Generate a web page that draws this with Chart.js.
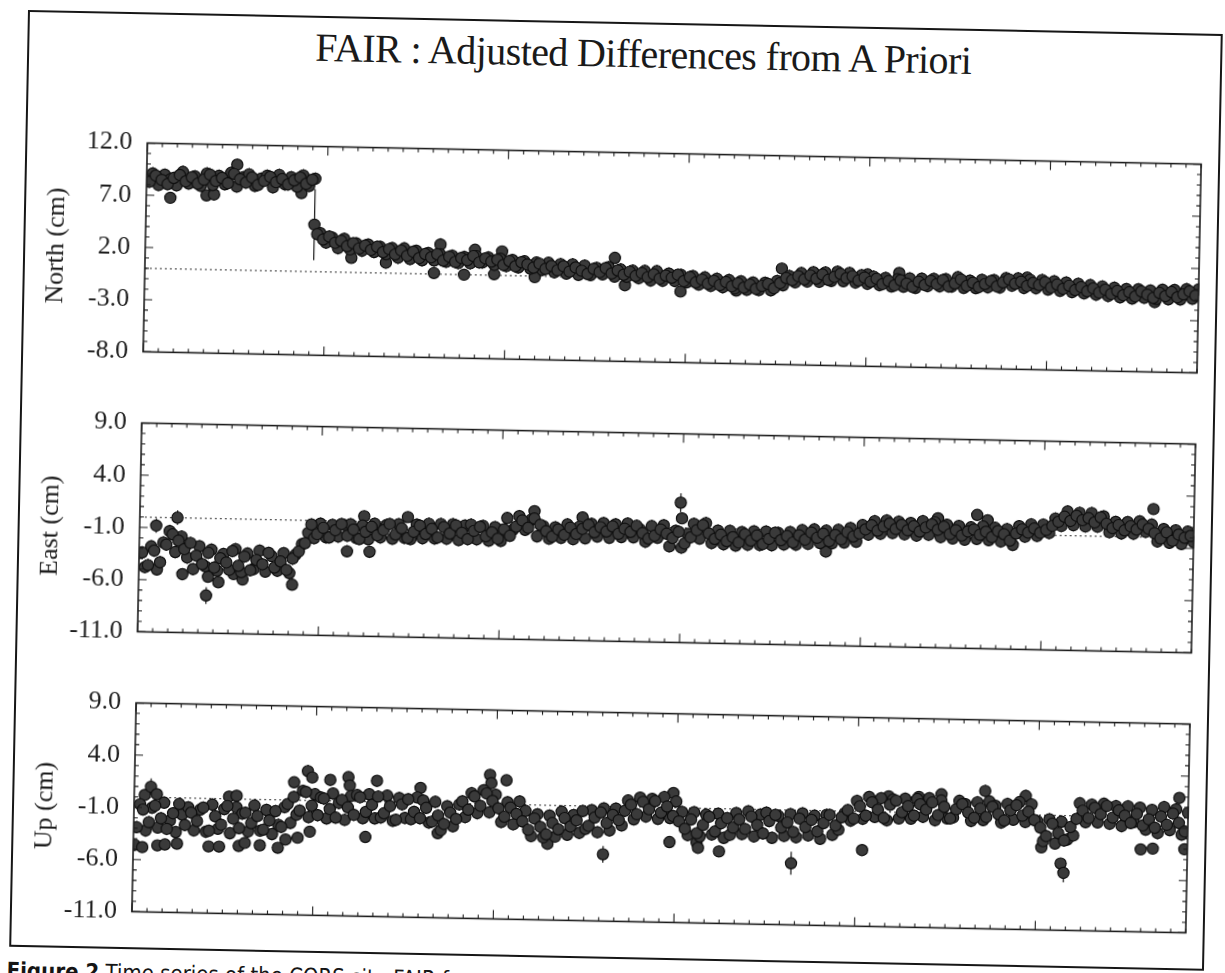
<!DOCTYPE html>
<html>
<head>
<meta charset="utf-8">
<title>FAIR : Adjusted Differences from A Priori</title>
<script src="https://cdn.jsdelivr.net/npm/chart.js@4.4.1/dist/chart.umd.min.js"></script>
<style>
    html, body { margin: 0; padding: 0; background: #fff; width: 1225px; height: 973px; overflow: hidden; }
    /* the scan is tilted a little, so the whole sheet is turned */
    #sheet { position: absolute; left: 28px; top: 10px; width: 1195px; height: 1000px; transform-origin: 0 0; transform: rotate(1.15deg); }
    #frame { position: absolute; left: 0; top: 0; width: 1195px; height: 937px; border: 2px solid #161616; box-sizing: border-box; }
    #title { position: absolute; left: 0; top: 12px; width: 1232px; text-align: center; font: 40px 'Liberation Serif', serif; letter-spacing: -0.6px; line-height: 1; color: #1a1a1a; }
    .panel { position: absolute; left: 0; }
    #caption { position: absolute; left: -2px; top: 950px; white-space: nowrap; font: 22px 'DejaVu Sans Condensed', 'Liberation Sans', sans-serif; line-height: 1; color: #151515; }
    #caption b { font-weight: bold; }
</style>
</head>
<body>
<div id="sheet">
    <div id="frame"></div>
    <div id="title">FAIR : Adjusted Differences from A Priori</div>
    <canvas class="panel" id="north" width="1195" height="270" style="top:100px"></canvas>
    <canvas class="panel" id="east" width="1195" height="270" style="top:380px"></canvas>
    <canvas class="panel" id="up" width="1195" height="270" style="top:660px"></canvas>
    <div id="caption"><b>Figure 2</b> Time series of the CORS site FAIR for</div>
</div>
<script>
// time axis in months from the start of the series.
// two interleaved sample sets: A at 0.2, 0.6, 1.0 ... and B at 0.4, 0.8, 1.2 ...
const firstMonthA = 0.2;
const firstMonthB = 0.4;
const monthStep = 0.4;
const xMin = 0, xMax = 70;
const bandErr = 0.6;   // typical daily sigma, cm

// North (cm)
const northA = [
    8.3, 8.9, 8.5, 8.1, 8.7, 9.0, 8.4, 8.8, 8.2, 8.6,
    9.1, 8.5, 8.8, 8.3, 9.2, 8.7, 8.4, 8.9, 8.2, 8.6,
    9.0, 8.5, 8.8, 8.3, 8.7, 9.0, 8.4, 8.8, 3.6, 3.1,
    3.4, 2.8, 3.0, 2.5, 2.8, 2.3, 2.6, 2.2, 2.5, 2.0,
    2.3, 1.8, 2.2, 1.7, 2.1, 1.5, 1.9, 1.6, 1.9, 1.3,
    1.7, 1.2, 1.6, 1.4, 1.8, 1.2, 1.6, 1.3, 1.5, 1.0,
    1.4, 0.9, 1.3, 1.1, 0.8, 1.2, 0.7, 1.0, 0.6, 1.0,
    0.5, 0.9, 0.6, 0.3, 0.8, 0.5, 0.9, 0.4, 0.7, 0.3,
    0.6, 0.2, 0.5, 0.1, 0.4, 0.0, 0.3, 0.1, 0.4, -0.2,
    0.2, -0.3, 0.0, -0.4, -0.1, -0.5, -0.2, -0.6, -0.3, -0.7,
    -0.4, -0.8, -0.5, -0.3, -0.7, -0.2, 0.3, 0.1, 0.5, 0.2,
    0.6, 0.3, 0.7, 0.2, 0.5, 0.8, 0.4, 0.6, 0.2, 0.5,
    0.1, 0.4, -0.1, 0.2, -0.2, 0.3, 0.0, -0.3, 0.2, -0.1,
    0.3, 0.0, 0.4, -0.2, 0.1, 0.5, -0.1, 0.2, -0.2, 0.1,
    0.4, -0.1, 0.3, 0.6, 0.2, 0.4, 0.0, 0.3, 0.1, 0.4,
    -0.1, 0.2, -0.2, 0.1, -0.3, 0.0, -0.4, -0.1, -0.5, -0.2,
    -0.6, -0.3, -0.7, -0.4, -0.8, -0.3, -0.6, -0.9, -0.4, -0.7,
    -0.3, -0.8, -0.5, -0.2, -0.6
];
const northB = [
    9.1, 8.0, 9.0, 8.6, 8.0, 9.3, 8.2, 8.9, 8.0, 9.2,
    8.1, 9.0, 8.2, 9.3, 8.0, 8.9, 9.2, 8.1, 8.8, 9.1,
    8.0, 9.2, 8.3, 9.0, 8.1, 9.2, 8.2, 8.9, 3.7, 2.8,
    3.3, 2.3, 3.2, 2.2, 2.8, 2.1, 2.7, 2.0, 2.5, 1.8,
    2.4, 1.5, 2.4, 1.4, 2.2, 1.3, 2.0, 1.3, 1.9, 1.2,
    1.8, 1.1, 1.7, 1.1, 1.8, 1.2, 1.7, 1.0, 1.6, 0.9,
    1.5, 0.8, 1.4, 0.7, 1.3, 0.6, 1.3, 0.4, 1.2, 0.3,
    1.2, 0.2, 1.1, 0.2, 0.9, 0.3, 1.0, 0.1, 0.8, 0.1,
    0.7, 0.0, 0.7, -0.2, 0.7, -0.2, 0.5, -0.2, 0.4, -0.3,
    0.3, -0.5, 0.2, -0.6, 0.1, -0.7, 0.0, -0.8, -0.1, -0.9,
    -0.2, -0.9, -0.2, -0.9, 0.0, -0.4, 0.5, -0.1, 0.8, 0.0,
    0.9, 0.0, 0.9, 0.1, 1.0, 0.1, 0.9, 0.0, 0.7, -0.1,
    0.6, -0.2, 0.5, -0.3, 0.4, -0.3, 0.5, -0.4, 0.5, -0.2,
    0.5, -0.2, 0.5, -0.2, 0.7, -0.3, 0.4, -0.3, 0.5, -0.2,
    0.5, -0.2, 0.7, 0.0, 0.7, -0.2, 0.6, -0.2, 0.6, -0.3,
    0.5, -0.4, 0.4, -0.5, 0.3, -0.6, 0.2, -0.7, 0.1, -0.8,
    0.0, -0.9, -0.1, -1.0, -0.1, -0.9, -0.2, -1.0, -0.1, -1.0,
    -0.1, -1.0, 0.0, -0.9, 0.0
];
const northOutX = [1.6, 4.0, 4.5, 6.0, 10.3, 11.2, 13.7, 16.0, 19.2, 19.6, 21.2, 21.9, 23.2, 23.7, 25.9, 31.2, 31.9, 35.6, 39.3, 42.3, 48.0, 50.1, 58.6, 67.1];
const northOutY = [6.8, 7.1, 7.2, 10.1, 7.5, 4.5, 1.4, 1.0, 0.1, 2.85, 0.0, 2.4, 0.1, 2.3, -0.1, 1.9, -0.7, -1.2, -1.0, 1.2, 0.8, 1.0, 0.8, -1.3];
const northOutErr = [0.4, 0.3, 0.3, 0.5, 0.3, 3.4, 0.3, 0.3, 0.5, 0.6, 0.3, 0.5, 0.3, 0.5, 0.3, 0.5, 0.3, 0.4, 0.3, 0.4, 0.3, 0.3, 0.3, 0.3];
const northTicks = [-8, -3, 2, 7, 12];

// East (cm)
const eastA = [
    -3.4, -4.6, -3.2, -4.3, -2.6, -1.6, -2.2, -3.0, -2.4, -3.6,
    -4.4, -3.3, -4.7, -3.8, -4.2, -3.1, -4.5, -3.6, -4.9, -3.9,
    -4.3, -3.2, -4.6, -4.0, -4.8, -3.7, -3.0, -2.2, -0.4, -1.3,
    -0.7, -1.6, -0.9, -0.3, -1.4, -0.8, -1.7, -1.0, -0.5, -1.3,
    -0.8, -0.2, -1.2, -0.6, -1.5, -0.9, -0.3, -1.1, -0.6, -1.4,
    -0.4, -1.0, -0.2, -0.9, -1.5, -0.7, -0.3, -1.2, -0.8, -1.4,
    -0.5, -1.1, -0.2, 0.4, -0.3, 0.6, 0.0, -0.6, -1.1, -0.4,
    -0.9, -0.2, -0.8, -0.3, 0.1, -0.6, -0.1, -0.5, 0.0, -0.7,
    -0.2, -0.5, 0.1, -0.6, -1.1, -0.8, -0.2, -0.6, -1.0, -0.4,
    -1.5, -0.9, -0.2, 0.3, -0.5, -1.0, -0.6, -1.2, -0.8, -1.3,
    -0.5, -1.1, -0.6, -1.4, -0.9, -0.3, -1.0, -0.6, -1.2, -0.5,
    -0.9, -0.2, -0.7, -0.3, -1.0, -0.4, -0.8, -0.1, -0.5, -0.2,
    0.2, 0.6, 0.1, 0.5, 0.8, 0.3, 0.7, 0.2, 0.6, 0.1,
    0.5, 0.8, 0.3, 0.6, -0.1, 0.3, -0.2, 0.2, 0.4, -0.1,
    0.2, -0.3, 0.3, 0.0, -0.6, 0.1, 0.5, 0.2, 0.6, 0.2,
    0.5, 0.9, 1.3, 1.8, 1.4, 1.9, 1.5, 1.7, 1.3, 1.8,
    1.2, 0.8, 1.1, 0.6, 1.0, 0.7, 1.2, 0.8, 0.4, -0.1,
    0.5, -0.3, 0.3, 0.0, 0.2
];
const eastB = [
    -4.8, -2.8, -5.0, -2.4, -1.3, -3.3, -1.8, -3.8, -4.9, -2.7,
    -4.6, -3.0, -5.0, -3.4, -4.9, -2.9, -5.1, -3.3, -4.8, -3.0,
    -5.0, -3.5, -4.9, -3.2, -5.1, -3.3, -2.3, -1.2, -1.7, -0.3,
    -1.6, -0.4, -1.5, -0.4, -0.3, -1.6, -0.4, -1.7, -0.2, -1.5,
    -0.3, -1.6, -0.2, -1.5, -1.6, -0.2, -1.5, -0.1, -1.5, -0.1,
    -1.5, -0.1, -1.6, -0.2, -0.1, -1.5, -0.2, -1.6, -0.3, -1.6,
    0.6, -0.5, 0.8, -0.5, 0.5, -1.1, -0.1, -1.3, -0.2, -1.2,
    0.1, -1.3, -0.1, -1.2, 0.2, -1.0, 0.3, -1.1, 0.2, -1.0,
    0.3, -1.0, -0.2, -1.4, 0.1, -1.0, 0.2, -1.8, -0.3, -1.9,
    -0.6, 0.4, -1.0, 0.5, -1.4, -0.2, -1.5, -0.2, -1.6, -0.3,
    -1.5, -0.2, -1.5, -0.2, -1.5, -0.3, -1.4, -0.2, -1.4, 0.0,
    -1.3, 0.1, -1.2, 0.0, -1.2, 0.1, -1.1, 0.3, -1.0, 0.6,
    -0.3, 1.0, -0.2, 1.1, -0.1, 1.0, -0.2, 0.9, -0.3, 1.1,
    -0.2, 1.0, -0.4, 0.8, -0.5, 0.7, -0.6, 0.6, -0.5, 0.7,
    -0.6, 0.6, -0.7, 0.5, -1.0, 0.8, -0.2, 1.0, -0.1, 1.0,
    0.2, 1.6, 0.9, 2.3, 1.0, 2.2, 0.9, 2.2, 0.9, 1.9,
    0.4, 1.4, 0.3, 1.4, 0.3, 1.5, 0.5, 1.2, -0.4, 0.8,
    -0.5, 0.7, -0.6, 0.6, -0.4
];
const eastOutX = [1.1, 2.5, 2.9, 4.5, 4.6, 5.3, 6.3, 6.9, 10.2, 13.8, 14.9, 15.3, 17.8, 26.2, 29.4, 35.9, 36.0, 45.6, 53.0, 55.6, 56.3, 67.3];
const eastOutY = [-0.8, 0.0, -5.4, -7.4, -5.6, -6.1, -5.3, -5.8, -6.2, -2.9, 0.5, -2.9, 0.5, 1.3, 0.8, 2.4, 0.9, -2.0, 1.4, 1.8, 1.3, 2.7];
const eastOutErr = [0.7, 0.7, 0.4, 0.8, 0.4, 0.4, 0.4, 0.4, 0.4, 0.6, 0.4, 0.6, 0.4, 0.4, 0.3, 0.9, 0.4, 0.4, 0.4, 0.5, 0.4, 0.5];
const eastTicks = [-11, -6, -1, 4, 9];

// Up (cm)
const upA = [
    -2.9, -1.2, -2.4, -0.8, -2.0, -3.0, -1.5, -0.6, -2.6, -1.4,
    -2.2, -0.9, -3.1, -1.7, -2.5, -0.7, -1.9, -2.8, -1.3, -2.3,
    -1.6, -2.9, -2.0, -1.1, -2.6, -0.4, 0.3, -1.0, 0.8, -0.5,
    -1.4, 0.2, -0.8, -1.6, 0.1, -0.6, -1.3, 0.4, -1.0, -0.3,
    0.5, -1.1, -0.4, -1.7, -0.2, 0.3, -0.9, -1.5, -0.5, -1.8,
    -1.2, -2.0, -0.9, -1.5, 0.2, -0.6, 0.7, -0.2, 1.0, 0.3,
    -0.4, -1.2, -0.3, -0.9, -1.6, -2.4, -1.3, -2.1, -2.8, -1.7,
    -2.3, -1.2, -2.0, -1.4, -0.5, -1.9, -1.1, -0.6, -1.6, -0.8,
    -1.3, -0.4, 0.2, -0.7, 0.5, -0.2, 0.6, -0.5, 0.1, -0.8,
    -1.3, -2.0, -1.1, -2.4, -1.6, -0.8, -2.2, -1.4, -0.9, -1.8,
    -1.0, -1.9, -0.7, -1.5, -2.3, -1.1, -0.5, -1.7, -1.2, -2.1,
    -0.8, -1.6, -0.9, -2.0, -1.2, -0.4, -1.4, -0.6, 0.1, -0.7,
    0.5, -0.4, 0.9, 0.2, -0.6, 0.7, 1.1, 0.0, 0.6, -0.3,
    0.8, 0.3, 1.0, -0.2, 0.6, -0.5, 0.4, 0.9, 0.1, -0.4,
    0.5, -0.3, 0.7, 0.0, -0.6, 0.4, 0.9, -0.1, 0.3, -0.5,
    -1.2, -2.0, -0.8, -1.7, -2.4, -1.1, -0.3, 0.5, -0.2, 0.8,
    0.2, 1.0, -0.1, 0.6, 0.1, -0.6, 0.3, -0.8, -0.2, -1.0,
    0.1, -0.7, 0.4, -0.5, -1.3
];
const upB = [
    -0.7, -3.2, -1.0, -2.9, -0.5, -2.2, -3.3, -1.6, -0.9, -3.1,
    -1.1, -3.2, -0.6, -2.9, -1.0, -3.3, -0.8, -1.4, -3.1, -0.6,
    -3.0, -1.0, -3.3, -2.4, -0.7, -2.2, -1.4, 0.9, -1.6, 0.6,
    0.3, -1.7, 0.7, -0.2, -1.8, 0.5, 0.6, -1.6, 0.7, -1.6,
    -1.5, 0.6, -1.8, 0.4, -1.5, -1.6, 0.5, 0.2, -1.9, 0.1,
    -2.6, -0.3, -2.2, -0.1, -1.3, 1.0, -0.9, 1.3, -0.8, 0.9,
    -1.7, 0.2, -1.9, 0.3, -0.6, -3.0, -0.9, -3.1, -1.0, -3.0,
    -0.6, -2.8, -0.9, -2.6, -2.2, -0.4, -2.5, -0.2, -2.3, -0.2,
    -1.8, 0.6, -1.2, 0.9, -0.9, 0.8, -1.1, 1.0, -1.0, 0.6,
    -0.4, -2.6, -0.4, -2.7, -0.6, -2.5, -0.5, -2.8, -2.5, -0.4,
    -2.4, -0.2, -2.6, -0.5, -0.3, -2.7, -0.6, -2.5, -0.4, -2.6,
    -0.3, -2.4, -0.5, -2.7, -0.4, -2.3, -1.8, -0.2, -0.9, 1.0,
    -0.7, 1.4, -0.5, 1.3, -0.8, 1.2, -0.6, 1.3, -0.6, 1.3,
    -0.4, 1.4, -0.7, 1.2, -0.5, -0.4, 1.2, 0.9, -0.7, 1.1,
    -0.6, 1.2, 0.8, -0.8, 1.0, -0.5, 1.2, -0.7, 1.0, -0.6,
    -2.5, -0.4, -2.7, -0.6, -2.3, -1.9, 1.2, -0.6, 1.1, -0.6,
    1.2, -0.7, 1.0, -0.9, 1.0, -0.5, 0.9, -1.2, 0.7, -1.5,
    1.0, -1.2, 0.8, -1.6, 0.5
];
const upOutX = [0.1, 0.6, 0.7, 1.1, 1.5, 1.6, 2.1, 2.9, 5.0, 5.7,
    6.3, 6.8, 7.0, 7.4, 8.4, 9.6, 10.1, 10.6, 10.9, 11.5,
    11.7, 11.8, 13.0, 14.2, 14.3, 15.4, 16.1, 19.0, 20.2, 23.6,
    23.7, 24.7, 27.5, 31.2, 35.6, 35.8, 37.4, 37.5, 38.9, 43.7,
    48.4, 50.1, 52.1, 53.6, 56.5, 59.2, 60.3, 61.6, 61.8, 66.9,
    67.7, 69.4, 69.8];
const upOutY = [-4.6, -4.8, 0.2, 1.0, 0.3, -4.6, -4.5, -4.4, -4.6, -4.6,
    0.2, 0.3, -4.5, -4.2, -4.4, -4.6, -3.8, 1.7, -3.6, 2.8,
    -3.0, 2.2, 2.0, 2.3, 1.5, -3.4, 2.0, 1.4, -2.9, 2.8,
    2.0, 2.3, -3.7, -4.6, -3.3, 1.4, -3.3, -3.8, -4.1, -5.1,
    -3.7, 1.5, 1.5, 1.8, 2.2, 1.8, -3.1, -4.6, -5.5, -3.1,
    -3.0, 1.9, -3.0];
const upOutErr = [0.4, 0.4, 0.4, 0.8, 0.4, 0.4, 0.4, 0.4, 0.4, 0.4,
    0.4, 0.4, 0.4, 0.4, 0.4, 0.4, 0.4, 0.4, 0.4, 0.6,
    0.4, 0.4, 0.4, 0.5, 0.4, 0.4, 0.4, 0.4, 0.4, 0.4,
    0.4, 0.4, 0.4, 0.8, 0.4, 0.4, 0.4, 0.4, 0.4, 1.1,
    0.4, 0.4, 0.4, 0.4, 0.6, 0.6, 0.4, 0.4, 0.9, 0.4,
    0.4, 0.5, 0.4];
const upTicks = [-11, -6, -1, 4, 9];

const ink = '#1d1d1d';
const serif = (size) => ({ family: "'Liberation Serif', 'Times New Roman', serif", size: size });

const dotStyle = {
    showLine: false,
    pointRadius: 5.6,
    pointHoverRadius: 5.6,
    pointBorderWidth: 1.2,
    pointBackgroundColor: '#3a3a3a',
    pointBorderColor: '#0f0f0f'
};

// box with inward ticks, dotted zero line and error bars
const framePlugin = {
    id: 'framePlugin',
    beforeDatasetsDraw(chart) {
        const { ctx, chartArea: a, scales: { y } } = chart;
        ctx.save();
        ctx.strokeStyle = '#5a5a5a';
        ctx.lineWidth = 1.2;
        ctx.setLineDash([2, 3]);
        const y0 = y.getPixelForValue(0);
        ctx.beginPath();
        ctx.moveTo(a.left, y0);
        ctx.lineTo(a.right, y0);
        ctx.stroke();
        ctx.setLineDash([]);

        ctx.strokeStyle = '#262626';
        ctx.lineWidth = 1.3;
        chart.data.datasets.forEach((ds, di) => {
            const meta = chart.getDatasetMeta(di);
            ds.data.forEach((d, j) => {
                if (!d.err) return;
                const px = meta.data[j].x;
                ctx.beginPath();
                ctx.moveTo(px, y.getPixelForValue(d.y - d.err));
                ctx.lineTo(px, y.getPixelForValue(d.y + d.err));
                ctx.stroke();
            });
        });
        ctx.restore();
    },
    afterDraw(chart) {
        const { ctx, chartArea: a, scales: { x, y } } = chart;
        ctx.save();
        ctx.strokeStyle = ink;
        ctx.lineWidth = 1.6;
        ctx.strokeRect(a.left, a.top, a.right - a.left, a.bottom - a.top);

        ctx.lineWidth = 1.1;
        ctx.beginPath();
        for (let m = x.min; m <= x.max; m++) {
            const px = x.getPixelForValue(m);
            const len = m % 12 === 0 ? 9 : 4;
            ctx.moveTo(px, a.top);
            ctx.lineTo(px, a.top + len);
            ctx.moveTo(px, a.bottom);
            ctx.lineTo(px, a.bottom - len);
        }
        for (let v = y.min; v <= y.max; v++) {
            const py = y.getPixelForValue(v);
            const len = y.ticks.some(t => t.value === v) ? 8 : 4;
            ctx.moveTo(a.left, py);
            ctx.lineTo(a.left + len, py);
            ctx.moveTo(a.right, py);
            ctx.lineTo(a.right - len, py);
        }
        ctx.stroke();
        ctx.restore();
    }
};

function bandPoints(vals, first) {
    return vals.map((v, i) => ({ x: first + i * monthStep, y: v, err: bandErr }));
}

function makePanel(id, valsA, valsB, outX, outY, outErr, yMin, yMax, yTicks, yTitle, pad) {
    const outs = outX.map((m, i) => ({ x: m, y: outY[i], err: outErr[i] || 0.3 }));

    return new Chart(document.getElementById(id), {
        type: 'scatter',
        data: {
            datasets: [
                Object.assign({ data: bandPoints(valsA, firstMonthA) }, dotStyle),
                Object.assign({ data: bandPoints(valsB, firstMonthB) }, dotStyle),
                Object.assign({ data: outs }, dotStyle)
            ]
        },
        options: {
            responsive: false,
            animation: false,
            events: [],
            layout: { padding: pad },
            plugins: {
                legend: { display: false },
                tooltip: { enabled: false }
            },
            scales: {
                x: { type: 'linear', min: xMin, max: xMax, display: false },
                y: {
                    type: 'linear',
                    min: yMin,
                    max: yMax,
                    afterFit: (s) => { s.width = 122; },
                    afterBuildTicks: (s) => { s.ticks = yTicks.map(v => ({ value: v })); },
                    grid: { display: false, drawTicks: false },
                    border: { display: false },
                    ticks: {
                        padding: 15,
                        color: ink,
                        font: serif(26),
                        callback: (v) => Number(v).toFixed(1)
                    },
                    title: {
                        display: true,
                        text: yTitle,
                        color: ink,
                        font: serif(26),
                        padding: { top: 18, bottom: 0 }
                    }
                }
            }
        },
        plugins: [framePlugin]
    });
}

makePanel('north', northA, northB, northOutX, northOutY, northOutErr, -8, 12, northTicks, 'North (cm)',
    { left: 0, right: 19, top: 20, bottom: 22 });
makePanel('east', eastA, eastB, eastOutX, eastOutY, eastOutErr, -11, 9, eastTicks, 'East (cm)',
    { left: 0, right: 19, top: 21, bottom: 17 });
makePanel('up', upA, upB, upOutX, upOutY, upOutErr, -11, 9, upTicks, 'Up (cm)',
    { left: 0, right: 19, top: 21, bottom: 18 });
</script>
</body>
</html>
